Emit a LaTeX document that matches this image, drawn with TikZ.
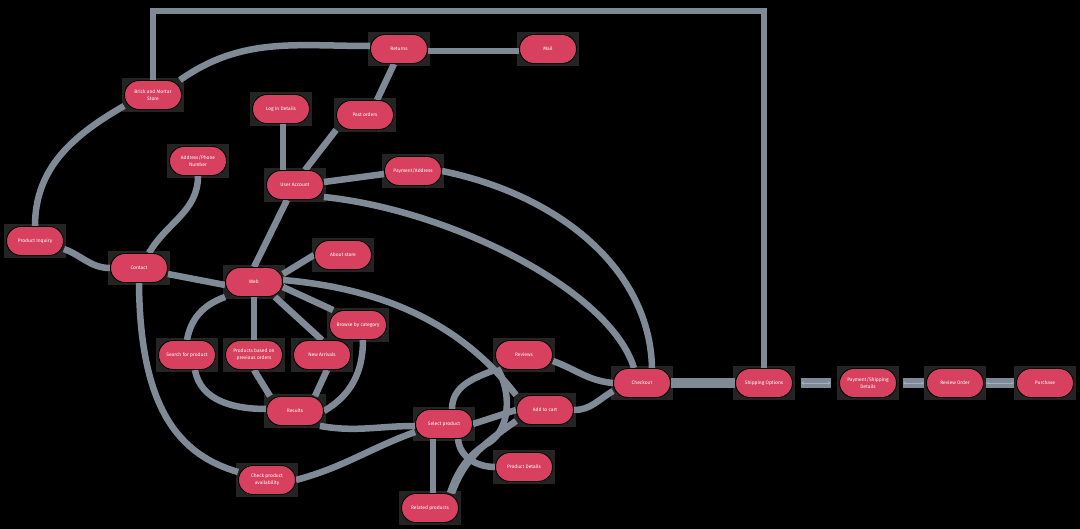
\documentclass[tikz,border=0pt]{standalone}
\usepackage{fontspec}
\setmainfont{Fira Sans}
\usetikzlibrary{arrows.meta,calc}
\definecolor{pillc}{HTML}{D7415F}
\definecolor{wire}{HTML}{808A96}
\definecolor{haloc}{HTML}{242424}
\definecolor{tipc}{HTML}{9DB2C8}
\pgfdeclarelayer{bg}\pgfdeclarelayer{edges}\pgfsetlayers{bg,edges,main}
\begin{document}
\begin{tikzpicture}[x=1pt,y=-1pt,
  pill/.style={rectangle,rounded corners=14.5pt,minimum width=57pt,minimum height=29pt,inner sep=0pt,
    fill=pillc,draw=black,line width=0.9pt,text=white,align=center,font=\fontsize{4.9}{6.8}\selectfont},
  conn/.style={draw=wire,line width=6.5pt},
  chain/.style={draw=wire,line width=10pt},
  tip/.style={draw=tipc,line width=0.6pt,{Stealth[length=3pt,width=3pt]}-{Stealth[length=3pt,width=3pt]}}]
\begin{pgfonlayer}{bg}
\fill[black] (0,0) rectangle (1080,529);
\end{pgfonlayer}
\useasboundingbox (0,0) rectangle (1080,529);
% nodes
\node[pill] (brick)   at (153,95)  {Brick and Mortar\\Store};
\node[pill] (returns) at (399,49)  {Returns};
\node[pill] (mail)    at (548,49)  {Mail};
\node[pill] (login)   at (281,109) {Log In Details};
\node[pill] (past)    at (365,115) {Past orders};
\node[pill] (addr)    at (198,161) {Address/Phone\\Number};
\node[pill] (user)    at (295,185) {User Account};
\node[pill] (pay)     at (413,171) {Payment/Address};
\node[pill] (inq)     at (35,241)  {Product Inquiry};
\node[pill] (contact) at (139,268) {Contact};
\node[pill] (about)   at (343,255) {About store};
\node[pill] (web)     at (254,282) {Web};
\node[pill] (browse)  at (358,325) {Browse by category};
\node[pill] (search)  at (187,355) {Search for product};
\node[pill] (prev)    at (254,355) {Products based on\\previous orders};
\node[pill] (new)     at (322,355) {New Arrivals};
\node[pill] (results) at (295,411) {Results};
\node[pill] (avail)   at (267,480) {Check product\\availability};
\node[pill] (reviews) at (524,355) {Reviews};
\node[pill] (check)   at (642,383) {Checkout};
\node[pill] (cart)    at (545,410) {Add to cart};
\node[pill] (select)  at (444,424) {Select product};
\node[pill] (details) at (524,467) {Product Details};
\node[pill] (related) at (430,508) {Related products};
\node[pill] (ship)    at (764,383) {Shipping Options};
\node[pill] (payship) at (868,383) {Payment/Shipping\\Details};
\node[pill] (revord)  at (955,383) {Review Order};
\node[pill] (purch)   at (1045,383) {Purchase};
\coordinate (topline) at (460,11);
% halos
\begin{pgfonlayer}{bg}
\foreach \n in {brick,returns,mail,login,past,addr,user,pay,inq,contact,about,web,browse,search,prev,new,results,avail,reviews,check,cart,select,details,related,ship,payship,revord,purch}
  \fill[haloc] ([xshift=-2pt,yshift=2pt]\n.north west) rectangle ([xshift=2pt,yshift=-2pt]\n.south east);
\end{pgfonlayer}
% connectors
\begin{pgfonlayer}{edges}
\draw[conn] (brick.north) |- (topline) -| (ship.north);
\draw[conn] ([xshift=-2pt]brick.north east) to[out=35,in=180] ([yshift=3pt]returns.west);
\draw[conn] ([yshift=4pt]brick.south west) to[out=210,in=90] (inq.north);
\draw[conn] ([yshift=-2pt]returns.east) -- ([yshift=-2pt]mail.west);
\draw[conn] ([xshift=12pt]past.north) -- ([xshift=-5pt]returns.south);
\draw[conn] ([xshift=2pt]login.south) -- ([xshift=2pt]login.south |- user.north);
\draw[conn] (past.south west) -- ([xshift=10pt]user.north);
\draw[conn] ([yshift=3pt]user.east) -- ([yshift=-3pt]pay.west);
\draw[conn] ([yshift=-12pt]user.east) .. controls (450,210) and (610,290) .. ([xshift=-8pt]check.north);
\draw[conn] (pay.east) .. controls (560,195) and (650,270) .. ([xshift=10pt]check.north);
\draw[conn] (web.north) -- ([xshift=-8pt]user.south);
\draw[conn] (addr.south) to[out=-90,in=60] ([xshift=10pt]contact.north);
\draw[conn] ([yshift=-8pt]inq.east) to[out=-20,in=180] (contact.west);
\draw[conn] ([yshift=-6pt]contact.east) -- ([yshift=-3pt]web.west);
\draw[conn] ([yshift=8pt]web.east) -- (about.west);
\draw[conn] (web.south west) to[out=200,in=80] (search.north);
\draw[conn] (web.south) -- (prev.north);
\draw[conn] ([xshift=-8pt]web.south east) -- (new.north);
\draw[conn] ([yshift=-5pt]web.east) -- ([xshift=4pt]browse.north west);
\draw[conn] ([yshift=2pt]web.east) .. controls (400,290) and (470,335) .. (cart.north west);
\draw[conn] ([xshift=8pt]select.north) to[out=90,in=200] (reviews.south west);
\draw[conn] ([xshift=2pt,yshift=2pt]reviews.south west) .. controls (512,392) and (510,428) .. (490,442) .. controls (465,455) and (455,478) .. ([xshift=20pt]related.north);
\draw[conn] (cart.west) -- (select.east);
\draw[conn] ([yshift=4pt]cart.south west) to[out=215,in=70] ([xshift=22pt]related.north);
\draw[conn] ([xshift=-11pt]select.south) -- ([xshift=-11pt]select.south |- related.north);
\draw[conn] ([xshift=14pt]select.south) to[out=-85,in=180] (details.west);
\draw[conn] ([xshift=-4pt]results.south east) to[out=-10,in=180] ([yshift=-2pt]select.west);
\draw[conn] (avail.east) to[out=15,in=200] ([yshift=-8pt]select.west);
\draw[conn] (contact.south) .. controls (140,410) and (180,455) .. ([yshift=8pt]avail.west);
\draw[conn] ([xshift=8pt]search.south) to[out=-80,in=180] ([yshift=2pt]results.west);
\draw[conn] (prev.south) -- ([xshift=-25pt]results.north);
\draw[conn] ([xshift=5pt]new.south) -- ([xshift=20pt]results.north);
\draw[conn] ([xshift=5pt]browse.south) to[out=-90,in=30] (results.east);
\draw[conn] ([yshift=-6pt]reviews.east) to[out=-20,in=175] (check.west);
\draw[conn] (cart.east) to[out=0,in=210] ([yshift=-8pt]check.west);
\draw[chain] (check.east) -- (ship.west);
\draw[chain] ([xshift=8pt]ship.east) -- ([xshift=-8pt]payship.west);
\draw[chain] ([xshift=6pt]payship.east) -- ([xshift=-2pt]revord.west);
\draw[chain] ([xshift=2pt]revord.east) -- ([xshift=-2pt]purch.west);
\draw[tip] ([xshift=8pt]ship.east) -- ([xshift=-8pt]payship.west);
\draw[tip] ([xshift=6pt]payship.east) -- ([xshift=-2pt]revord.west);
\draw[tip] ([xshift=2pt]revord.east) -- ([xshift=-2pt]purch.west);
\end{pgfonlayer}
\end{tikzpicture}
\end{document}
